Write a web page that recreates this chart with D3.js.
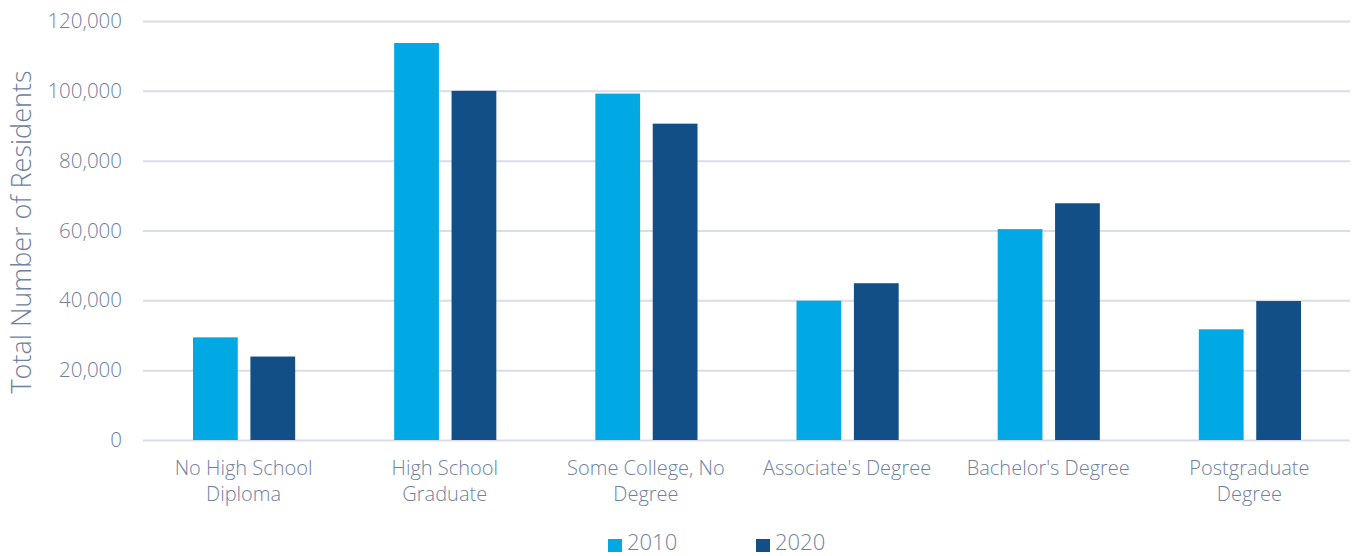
<!DOCTYPE html>
<html>
<head>
<meta charset="utf-8">
<script src="https://cdn.jsdelivr.net/npm/d3@7"></script>
<style>
  body { margin: 0; background: #fff; }
  svg text { font-family: "Open Sans", "Lato", sans-serif; font-weight: 300; fill: #6f819f; }
</style>
</head>
<body>
<svg width="1352" height="556"></svg>
<script>
// chart data
var categories = [["No High School", "Diploma"], ["High School", "Graduate"], ["Some College, No", "Degree"],
    ["Associate's Degree"], ["Bachelor's Degree"], ["Postgraduate", "Degree"]];
var years = ["2010", "2020"];
var values2010 = [29400, 113700, 99200, 39900, 60400, 31700];
var values2020 = [23900, 100000, 90600, 44900, 67800, 39800];
var yTicks = [0, 20000, 40000, 60000, 80000, 100000, 120000];
var colors = ["#00a9e4", "#134f87"];

var svg = d3.select("svg");
var margin = { top: 21, right: 2, bottom: 116, left: 143 };
var width = 1352 - margin.left - margin.right;
var height = 556 - margin.top - margin.bottom;

var x = d3.scaleBand().domain(d3.range(categories.length)).range([0, width]);
var x1 = d3.scaleBand().domain(years).range([50, x.bandwidth() - 49]).paddingInner(0.22).paddingOuter(0);
var y = d3.scaleLinear().domain([0, 120000]).range([height, 0]);

var g = svg.append("g").attr("transform", "translate(" + margin.left + "," + margin.top + ")");

// grid + y labels
var yAxis = g.append("g")
    .call(d3.axisLeft(y).tickValues(yTicks).tickSize(-width).tickPadding(21).tickFormat(d3.format(",")));
yAxis.select(".domain").remove();
yAxis.selectAll("line").attr("stroke", "#d9dde7").attr("stroke-width", 2);
yAxis.selectAll("text").style("font-size", "20.5px").attr("fill", "#6f819f");

g.append("text")
    .attr("transform", "rotate(-90)")
    .attr("x", -(232 - margin.top))
    .attr("y", -margin.left + 31)
    .attr("text-anchor", "middle")
    .attr("fill", "#7586a3")
    .style("font-size", "27px")
    .text("Total Number of Residents");

// bars
var series = [values2010, values2020];
series.forEach(function (vals, si) {
    g.selectAll(".bar" + si)
        .data(vals)
        .enter().append("rect")
        .attr("x", function (d, i) { return x(i) + x1(years[si]); })
        .attr("y", function (d) { return y(d); })
        .attr("width", x1.bandwidth())
        .attr("height", function (d) { return height - y(d); })
        .attr("fill", colors[si]);
});

// x labels
var xl = g.selectAll(".xlab")
    .data(categories)
    .enter().append("text")
    .attr("text-anchor", "middle")
    .attr("transform", function (d, i) { return "translate(" + (x(i) + x.bandwidth() / 2) + "," + (height + 35) + ")"; })
    .style("font-size", "20px");
xl.selectAll("tspan")
    .data(function (d) { return d; })
    .enter().append("tspan")
    .attr("x", 0)
    .attr("dy", function (d, i) { return i === 0 ? 0 : 25.5; })
    .text(function (d) { return d; });

// legend
var legend = svg.append("g").attr("transform", "translate(608,545)");
var lg = legend.selectAll("g")
    .data(years)
    .enter().append("g")
    .attr("transform", function (d, i) { return "translate(" + (i * 148) + ",0)"; });
lg.append("rect").attr("x", 0).attr("y", -6).attr("width", 14).attr("height", 13)
    .attr("fill", function (d, i) { return colors[i]; });
lg.append("text").attr("x", 19).attr("y", 5).style("font-size", "22px").text(function (d) { return d; });
</script>
</body>
</html>
